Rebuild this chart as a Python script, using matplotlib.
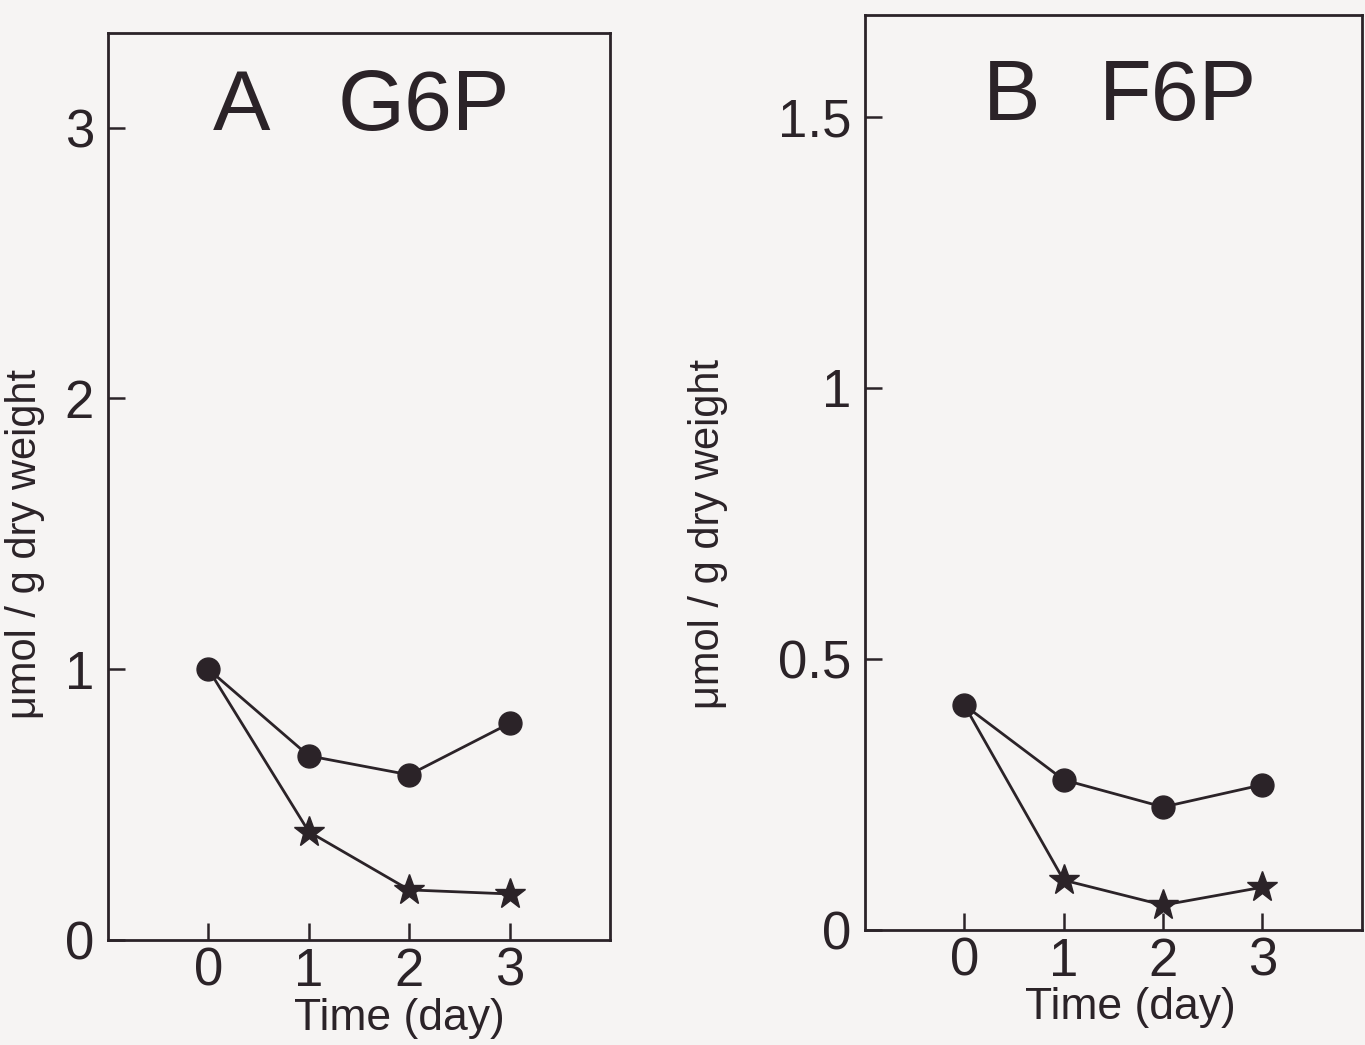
import matplotlib.pyplot as plt

days = [0, 1, 2, 3]

# panel A: glucose-6-phosphate
g6p_circle = [1.00, 0.68, 0.61, 0.80]
g6p_star_days = [1, 2, 3]
g6p_star = [0.40, 0.185, 0.17]

# panel B: fructose-6-phosphate
f6p_circle = [0.415, 0.277, 0.227, 0.268]
f6p_star_days = [1, 2, 3]
f6p_star = [0.092, 0.046, 0.079]

a_yticks = [0, 1, 2, 3]
a_ylabels = ['0', '1', '2', '3']
b_yticks = [0, 0.5, 1, 1.5]
b_ylabels = ['0', '0.5', '1', '1.5']

ink = '#2b2328'
paper = '#f6f4f3'

plt.rcParams['font.family'] = ['Liberation Sans', 'DejaVu Sans']

fig = plt.figure(figsize=(13.65, 10.45), dpi=100, facecolor=paper)
axA = fig.add_axes([0.0791, 0.1005, 0.3678, 0.868])
axB = fig.add_axes([0.6337, 0.110, 0.3640, 0.8756])


def draw_panel(ax, circ, sd, star, yt, yl, ytop, letter, name, lx, nx, ty, ylab_xy, xlab_xy):
    ax.set_facecolor(paper)
    ax.plot(days, circ, color=ink, lw=2.0, marker='o', ms=16.5, mfc=ink, mec=ink, zorder=3)
    ax.plot([days[0]] + sd, [circ[0]] + star, color=ink, lw=2.0, zorder=2)
    ax.plot(sd, star, ls='none', marker='*', ms=23, mfc=ink, mec=ink, zorder=3)
    ax.set_xlim(-1, 4)
    ax.set_ylim(0, ytop)
    ax.set_xticks(days)
    ax.set_xticklabels(['0', '1', '2', '3'])
    ax.set_yticks(yt)
    ax.set_yticklabels(yl)
    ax.tick_params(axis='both', direction='in', length=12, width=1.8, color=ink,
                   labelsize=38, labelcolor=ink)
    ax.tick_params(axis='x', pad=5)
    ax.tick_params(axis='y', pad=10)
    for s in ax.spines.values():
        s.set_linewidth(2.0)
        s.set_color(ink)
    ax.set_xlabel('Time (day)', fontsize=32, color=ink)
    ax.xaxis.set_label_coords(*xlab_xy)
    ax.set_ylabel('μmol / g dry weight', fontsize=30, color=ink)
    ax.yaxis.set_label_coords(*ylab_xy)
    ax.text(lx, ty, letter, fontsize=62, color=ink, ha='left', va='baseline')
    ax.text(nx, ty, name, fontsize=62, color=ink, ha='left', va='baseline')


draw_panel(axA, g6p_circle, g6p_star_days, g6p_star, a_yticks, a_ylabels, 3.35,
           'A', 'G6P', 0.04, 1.29, 2.99, (-0.125, 0.437), (0.58, -0.064))
draw_panel(axB, f6p_circle, f6p_star_days, f6p_star, b_yticks, b_ylabels, 1.688,
           'B', 'F6P', 0.19, 1.35, 1.495, (-0.275, 0.433), (0.535, -0.062))

fig.savefig('out.png', dpi=100, facecolor=paper)
